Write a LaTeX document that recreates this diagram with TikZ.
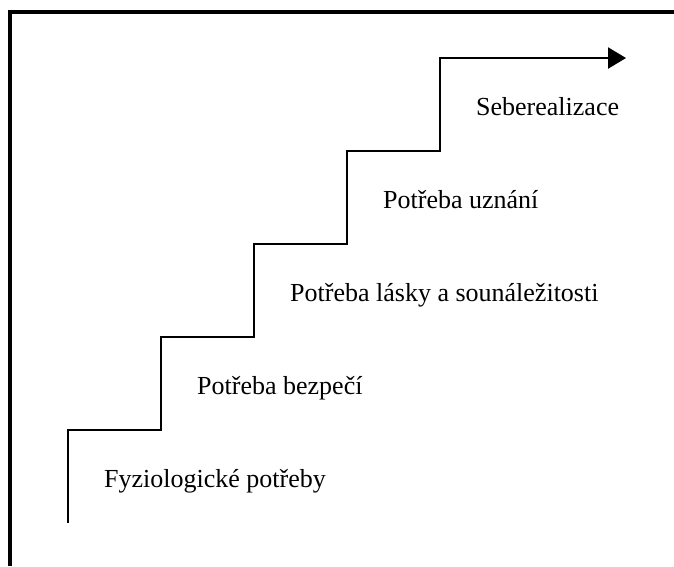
\documentclass[tikz,border=0pt]{standalone}
\usepackage{fontspec}
\setmainfont{Liberation Serif}
\usetikzlibrary{arrows.meta,calc}

\begin{document}
\begin{tikzpicture}[x=93pt, y=93pt]
\tikzset{stair/.style={line width=2.2pt},
frameline/.style={line width=4pt},
steplabel/.style={font=\fontsize{26}{31}\selectfont,anchor=base west,inner sep=0}}

\useasboundingbox (-0.731,-1.462) rectangle (6.516,4.624);

% frame (only top and left edges show)
\draw[frameline] (-0.624,-1.462) |- (6.516,4.495);

\foreach \i in {0,...,4} \coordinate (s\i) at (\i,\i);
\coordinate (start) at (0,-1);
\coordinate (tip) at (6,4);

%% Stairs
\draw[stair,-{Triangle[length=18pt,width=21pt]}] (start) -- (s0) -| (s1) -| (s2) -| (s3) -| (s4) -- (tip);

%% Labels
\foreach \u/\lab in {s0/Fyziologické potřeby, s1/Potřeba bezpečí, s2/Potřeba lásky a sounáležitosti, s3/Potřeba uznání, s4/Seberealizace}
  \node[steplabel] (l\u) at ($(\u)+(0.387,-0.613)$) {\lab};

\end{tikzpicture}
\end{document}
